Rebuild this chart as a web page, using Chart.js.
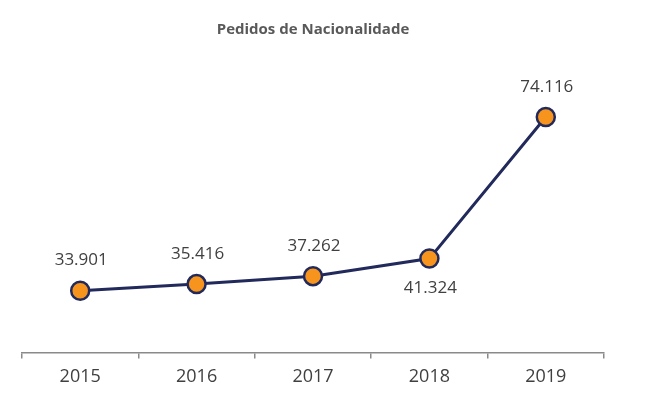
<!DOCTYPE html>
<html>
<head>
<meta charset="utf-8">
<script src="https://cdn.jsdelivr.net/npm/chart.js@4.4.0/dist/chart.umd.min.js"></script>
<style>
  html, body { margin: 0; padding: 0; background: #fff; }
  #wrap { width: 650px; height: 394px; }
</style>
</head>
<body>
<div id="wrap"><canvas id="lineChart"></canvas></div>
<script>
const years = ['2015', '2016', '2017', '2018', '2019'];
const pedidos = [33901, 35416, 37262, 41324, 74116];
// label above (-1) or below (+1) each point
const labelSide = [-1, -1, -1, 1, -1];

function fmt(n) {
    return String(n).replace(/\B(?=(\d{3})+(?!\d))/g, '.');
}

const valueLabels = {
    id: 'valueLabels',
    afterDatasetsDraw(chart) {
        const ctx = chart.ctx;
        const meta = chart.getDatasetMeta(0);
        ctx.save();
        ctx.font = '17px "Open Sans", sans-serif';
        ctx.fillStyle = '#404040';
        ctx.textAlign = 'center';
        ctx.textBaseline = 'middle';
        meta.data.forEach((pt, i) => {
            ctx.fillText(fmt(pedidos[i]), pt.x + 1, pt.y + labelSide[i] * 30);
        });
        ctx.restore();
    }
};

const ctx = document.getElementById('lineChart').getContext('2d');
new Chart(ctx, {
    type: 'line',
    data: {
        labels: years,
        datasets: [{
            label: 'Pedidos',
            data: pedidos,
            borderColor: '#222a5c',
            borderWidth: 3,
            pointBackgroundColor: '#f7941d',
            pointBorderColor: '#222a5c',
            pointBorderWidth: 2.5,
            pointRadius: 9,
            tension: 0
        }]
    },
    options: {
        responsive: true,
        maintainAspectRatio: false,
        animation: false,
        layout: { padding: { left: 22, right: 46, top: 0, bottom: -2 } },
        plugins: {
            legend: { display: false },
            tooltip: { enabled: false },
            title: {
                display: true,
                text: 'Pedidos de Nacionalidade',
                color: '#595959',
                font: { family: '"Open Sans", sans-serif', size: 15, weight: 'bold' },
                padding: { top: 21, bottom: 31 }
            }
        },
        scales: {
            y: {
                display: false,
                min: 19600,
                max: 85000
            },
            x: {
                offset: true,
                border: { display: true, color: '#8a8a8a', width: 1.5 },
                grid: {
                    offset: true,
                    drawOnChartArea: false,
                    drawTicks: true,
                    tickLength: 6,
                    color: '#8a8a8a',
                    lineWidth: 1.5
                },
                ticks: {
                    color: '#404040',
                    padding: 8,
                    font: { family: '"Open Sans", sans-serif', size: 18 }
                }
            }
        }
    },
    plugins: [valueLabels]
});
</script>
</body>
</html>
